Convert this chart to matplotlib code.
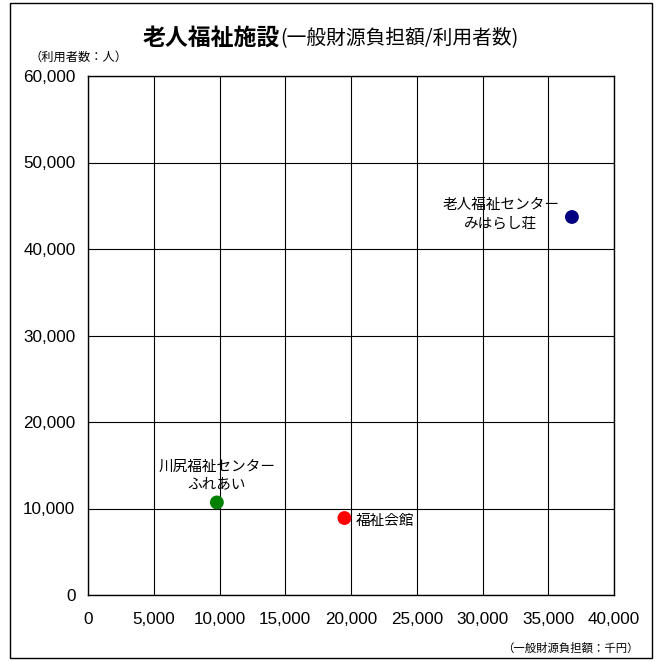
import matplotlib
matplotlib.use('Agg')
import matplotlib.pyplot as plt
from matplotlib.patches import Rectangle
from matplotlib.ticker import FuncFormatter, MultipleLocator

plt.rcParams['font.family'] = ['Noto Sans CJK JP', 'DejaVu Sans']

# 施設ごとの一般財源負担額(千円)と利用者数(人)
施設名 = ['老人福祉センター\nみはらし荘', '川尻福祉センター\nふれあい', '福祉会館']
負担額 = [36800, 9800, 19500]
利用者数 = [43700, 10700, 8900]
色 = ['#000080', '#008000', '#ff0000']

W, H = 656, 661
fig = plt.figure(figsize=(W / 100, H / 100), dpi=100)
fig.patches.append(Rectangle((10 / W, 3 / H), 642 / W, 655 / H,
                             transform=fig.transFigure, fill=False,
                             edgecolor='black', linewidth=1.0))

ax = fig.add_axes([88 / W, 66 / H, 526 / W, 519 / H])
ax.set_xlim(0, 40000)
ax.set_ylim(0, 60000)
ax.xaxis.set_major_locator(MultipleLocator(5000))
ax.yaxis.set_major_locator(MultipleLocator(10000))
fmt = FuncFormatter(lambda v, p: f'{int(v):,}')
ax.xaxis.set_major_formatter(fmt)
ax.yaxis.set_major_formatter(fmt)
ax.tick_params(length=0, labelsize=12.3, pad=12)
ax.tick_params(axis='y', pad=9)
for lbl in ax.get_xticklabels() + ax.get_yticklabels():
    lbl.set_family(['Liberation Sans', 'DejaVu Sans'])
ax.grid(True, color='black', linewidth=0.8)
ax.set_axisbelow(True)
for s in ax.spines.values():
    s.set_linewidth(1.0)

ax.scatter(負担額, 利用者数, s=80, c=色, zorder=3)

ax.annotate(施設名[0], (負担額[0], 利用者数[0]), xytext=(-9, 2),
            textcoords='offset points', ha='right', va='center',
            fontsize=10.5, multialignment='center', linespacing=1.35)
ax.annotate(施設名[1], (負担額[1], 利用者数[1]), xytext=(0, 8),
            textcoords='offset points', ha='center', va='bottom',
            fontsize=10.5, multialignment='center', linespacing=1.35)
ax.annotate(施設名[2], (負担額[2], 利用者数[2]), xytext=(8, -2),
            textcoords='offset points', ha='left', va='center',
            fontsize=10.5)

fig.text(280 / W, 1 - 38 / H, '老人福祉施設', fontsize=16.5, fontweight='bold',
         ha='right', va='center')
fig.text(280 / W, 1 - 38 / H, '(一般財源負担額/利用者数)', fontsize=14.2,
         ha='left', va='center')
fig.text(30 / W, 1 - 57 / H, '（利用者数：人）', fontsize=8.8,
         ha='left', va='center')
fig.text(502 / W, 1 - 648 / H, '（一般財源負担額：千円）', fontsize=8.2,
         ha='left', va='center')

fig.savefig('out.png', dpi=100)
